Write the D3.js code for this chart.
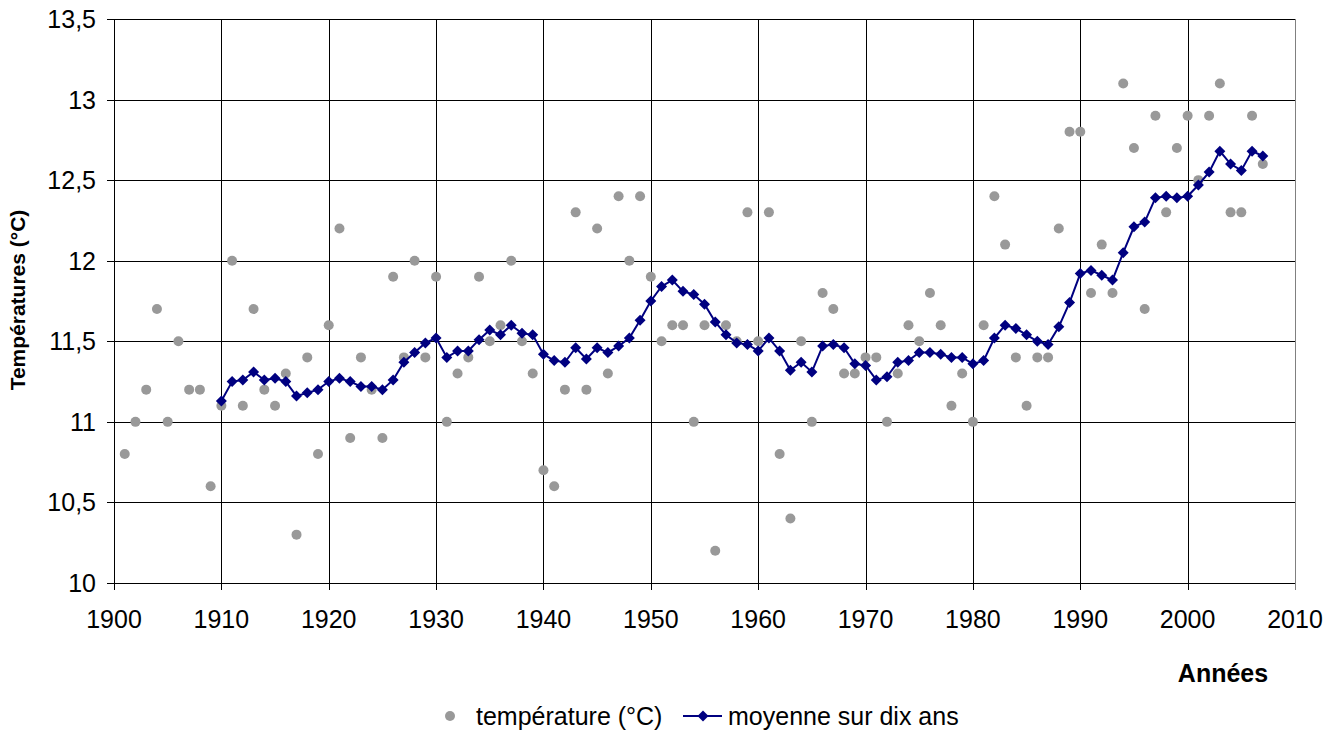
<!DOCTYPE html>
<html><head><meta charset="utf-8">
<script src="https://cdn.jsdelivr.net/npm/d3@7"></script>
<style>body{margin:0;background:#fff}svg{display:block}text{font-family:"Liberation Sans",Arial,sans-serif}</style>
</head><body>
<svg id="c" width="1337" height="734"></svg>
<script>
const years = d3.range(1901, 2008);
const temperature = [10.8,11.0,11.2,11.7,11.0,11.5,11.2,11.2,10.6,11.1,
12.0,11.1,11.7,11.2,11.1,11.3,10.3,11.4,10.8,11.6,
12.2,10.9,11.4,11.2,10.9,11.9,11.4,12.0,11.4,11.9,
11.0,11.3,11.4,11.9,11.5,11.6,12.0,11.5,11.3,10.7,
10.6,11.2,12.3,11.2,12.2,11.3,12.4,12.0,12.4,11.9,
11.5,11.6,11.6,11.0,11.6,10.2,11.6,11.5,12.3,11.5,
12.3,10.8,10.4,11.5,11.0,11.8,11.7,11.3,11.3,11.4,
11.4,11.0,11.3,11.6,11.5,11.8,11.6,11.1,11.3,11.0,
11.6,12.4,12.1,11.4,11.1,11.4,11.4,12.2,12.8,12.8,
11.8,12.1,11.8,13.1,12.7,11.7,12.9,12.3,12.7,12.9,
12.5,12.9,13.1,12.3,12.3,12.9,12.6];
const avgYears = d3.range(1910, 2008);
const moyenne = [11.13,11.25,11.26,11.31,11.26,11.27,11.25,11.16,11.18,11.20,
11.25,11.27,11.25,11.22,11.22,11.20,11.26,11.37,11.43,11.49,
11.52,11.40,11.44,11.44,11.51,11.57,11.54,11.60,11.55,11.54,
11.42,11.38,11.37,11.46,11.39,11.46,11.43,11.47,11.52,11.63,
11.75,11.84,11.88,11.81,11.79,11.73,11.62,11.54,11.49,11.48,
11.44,11.52,11.44,11.32,11.37,11.31,11.47,11.48,11.46,11.36,
11.35,11.26,11.28,11.37,11.38,11.43,11.43,11.42,11.40,11.40,
11.36,11.38,11.52,11.60,11.58,11.54,11.50,11.48,11.59,11.74,
11.92,11.94,11.91,11.88,12.05,12.21,12.24,12.39,12.40,12.39,
12.40,12.47,12.55,12.68,12.60,12.56,12.68,12.65];
const xTicks = [1900,1910,1920,1930,1940,1950,1960,1970,1980,1990,2000,2010];
const yTicks = [10,10.5,11,11.5,12,12.5,13,13.5];
const yLabel = "Températures (°C)";
const xLabel = "Années";
const legendLabels = ["température (°C)", "moyenne sur dix ans"];

const svg = d3.select("#c");
const x = d3.scaleLinear().domain([1900, 2010]).range([114, 1295]);
const y = d3.scaleLinear().domain([10, 13.5]).range([583, 19]);
const fmt = d => String(d).replace(".", ",");

// grid
const g = svg.append("g").attr("shape-rendering", "crispEdges");
g.selectAll(".hg").data(yTicks).join("line")
  .attr("x1", x(1900) - 7).attr("x2", x(2010)).attr("y1", d => Math.round(y(d)) + 0.5).attr("y2", d => Math.round(y(d)) + 0.5)
  .attr("stroke", "#000").attr("stroke-width", 1);
g.selectAll(".vg").data(xTicks).join("line")
  .attr("y1", y(13.5)).attr("y2", y(10) + 7).attr("x1", d => Math.round(x(d)) + 0.5).attr("x2", d => Math.round(x(d)) + 0.5)
  .attr("stroke", d => d === 2010 ? "#808080" : "#000").attr("stroke-width", 1);

// axis labels
svg.selectAll(".yl").data(yTicks).join("text")
  .attr("x", 96).attr("y", d => y(d) + 9).attr("text-anchor", "end")
  .attr("font-size", 25).attr("fill", "#000").text(fmt);
svg.selectAll(".xl").data(xTicks).join("text")
  .attr("x", d => x(d)).attr("y", 628).attr("text-anchor", "middle")
  .attr("font-size", 25).attr("fill", "#000").text(d => d);

svg.append("text").attr("transform", "translate(25,300) rotate(-90)")
  .attr("text-anchor", "middle").attr("font-size", 21).attr("font-weight", "bold").text(yLabel);
svg.append("text").attr("x", 1223).attr("y", 682).attr("text-anchor", "middle")
  .attr("font-size", 25).attr("font-weight", "bold").text(xLabel);

// points
svg.append("g").selectAll("circle").data(years.map((yr, i) => [yr, temperature[i]])).join("circle")
  .attr("cx", d => x(d[0])).attr("cy", d => y(d[1])).attr("r", 5).attr("fill", "#999999");

// moving average
const avgData = avgYears.map((yr, i) => [yr, moyenne[i]]);
svg.append("path").datum(avgData)
  .attr("d", d3.line().x(d => x(d[0])).y(d => y(d[1])))
  .attr("fill", "none").attr("stroke", "#000080").attr("stroke-width", 2);
const diamond = "M0,-5.5L5.5,0L0,5.5L-5.5,0Z";
svg.append("g").selectAll("path").data(avgData).join("path")
  .attr("transform", d => `translate(${x(d[0])},${y(d[1])})`)
  .attr("d", diamond).attr("fill", "#000080");

// legend
const lg = svg.append("g");
lg.append("circle").attr("cx", 450).attr("cy", 716).attr("r", 5).attr("fill", "#999999");
lg.append("text").attr("x", 476).attr("y", 725).attr("font-size", 25).text(legendLabels[0]);
lg.append("line").attr("x1", 683).attr("x2", 722).attr("y1", 716).attr("y2", 716).attr("stroke", "#000080").attr("stroke-width", 2);
lg.append("path").attr("transform", "translate(703,716)").attr("d", diamond).attr("fill", "#000080");
lg.append("text").attr("x", 728).attr("y", 725).attr("font-size", 25).text(legendLabels[1]);
</script>
</body></html>
